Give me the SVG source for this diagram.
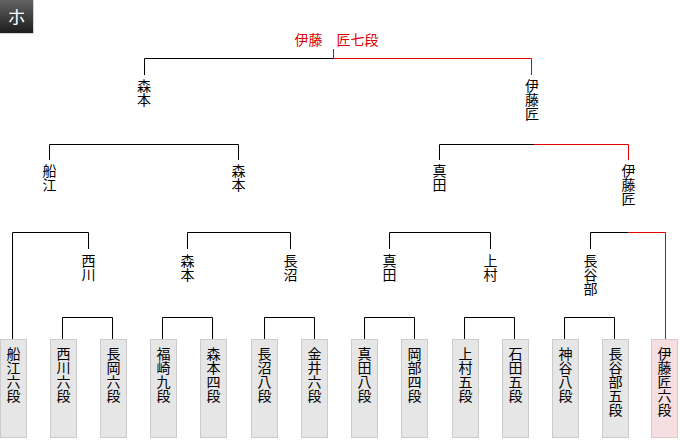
<svg xmlns="http://www.w3.org/2000/svg" width="680" height="440" viewBox="0 0 680 440">
<defs>
<linearGradient id="hdr" x1="0" y1="0" x2="0" y2="1">
<stop offset="0" stop-color="#646464"/>
<stop offset="1" stop-color="#1c1c1c"/>
</linearGradient>
</defs>
<style>
text{font-family:"Noto Sans CJK JP","Noto Sans CJK SC",sans-serif;font-size:14px;fill:#000;text-anchor:middle}
.l{fill:none;stroke:#000;stroke-width:1}
.r{fill:none;stroke:#e00000;stroke-width:1}
.box{fill:#e6e6e6;stroke:#cbcbcb;stroke-width:1}
.win{fill:#f5dfe0;stroke:#e3c7c8;stroke-width:1}
.champ{fill:#e00000}
.hd{fill:#fff;font-size:18px}
</style>
<rect width="680" height="440" fill="#fff"/>
<g id="header">
<rect x="0" y="0" width="33" height="33" fill="url(#hdr)"/>
<path d="M33.5 0V33.5H0" fill="none" stroke="#d4d4d4"/>
<text class="hd" x="16.5" y="24">ホ</text>
</g>
<g id="champion">
<text class="champ" x="336.5" y="44.5">伊藤　匠七段</text>
</g>
<g id="connectors">
<path class="r" d="M333.5 49V58.5"/>
<path class="l" d="M144.5 75V58.5H333.5"/>
<path class="r" d="M333.5 58.5H531.5V75"/>
<path class="l" d="M49.5 160V144.5H238.5V160"/>
<path class="l" d="M439.5 160V144.5H534"/>
<path class="r" d="M534 144.5H628.5V160"/>
<path class="l" d="M12.5 339V232.5H88.5V249"/>
<path class="l" d="M187.5 249V232.5H290.5V249"/>
<path class="l" d="M389.5 249V232.5H490.5V249"/>
<path class="l" d="M590.5 249V232.5H628.5"/>
<path class="r" d="M628.5 232.5H665.5V339"/>
<path class="l" d="M62.5 339V317.5H112.5V339"/>
<path class="l" d="M162.5 339V317.5H212.5V339"/>
<path class="l" d="M264.5 339V317.5H314.5V339"/>
<path class="l" d="M364.5 339V317.5H414.5V339"/>
<path class="l" d="M464.5 339V317.5H514.5V339"/>
<path class="l" d="M564.5 339V317.5H614.5V339"/>
</g>
<g id="r4-morimoto"><text><tspan x="144" y="91">森</tspan><tspan x="144" y="105">本</tspan></text></g>
<g id="r4-ito"><text><tspan x="532" y="91">伊</tspan><tspan x="532" y="105">藤</tspan><tspan x="532" y="119">匠</tspan></text></g>
<g id="r3-funae"><text><tspan x="49.5" y="176">船</tspan><tspan x="49.5" y="190">江</tspan></text></g>
<g id="r3-morimoto"><text><tspan x="238.5" y="176">森</tspan><tspan x="238.5" y="190">本</tspan></text></g>
<g id="r3-sanada"><text><tspan x="439.5" y="176">真</tspan><tspan x="439.5" y="190">田</tspan></text></g>
<g id="r3-ito"><text><tspan x="628.5" y="176">伊</tspan><tspan x="628.5" y="190">藤</tspan><tspan x="628.5" y="204">匠</tspan></text></g>
<g id="r2-nishikawa"><text><tspan x="88.5" y="266">西</tspan><tspan x="88.5" y="280">川</tspan></text></g>
<g id="r2-morimoto"><text><tspan x="187.5" y="266">森</tspan><tspan x="187.5" y="280">本</tspan></text></g>
<g id="r2-naganuma"><text><tspan x="290.5" y="266">長</tspan><tspan x="290.5" y="280">沼</tspan></text></g>
<g id="r2-sanada"><text><tspan x="389.5" y="266">真</tspan><tspan x="389.5" y="280">田</tspan></text></g>
<g id="r2-uemura"><text><tspan x="490.5" y="266">上</tspan><tspan x="490.5" y="280">村</tspan></text></g>
<g id="r2-hasebe"><text><tspan x="590.5" y="266">長</tspan><tspan x="590.5" y="280">谷</tspan><tspan x="590.5" y="294">部</tspan></text></g>
<g id="p-funae"><rect class="box" x="0.5" y="339.5" width="26" height="98"/><text><tspan x="13.5" y="358.5">船</tspan><tspan x="13.5" y="372.5">江</tspan><tspan x="13.5" y="386.5">六</tspan><tspan x="13.5" y="400.5">段</tspan></text></g>
<g id="p-nishikawa"><rect class="box" x="50.5" y="339.5" width="26" height="98"/><text><tspan x="63.5" y="358.5">西</tspan><tspan x="63.5" y="372.5">川</tspan><tspan x="63.5" y="386.5">六</tspan><tspan x="63.5" y="400.5">段</tspan></text></g>
<g id="p-nagaoka"><rect class="box" x="100.5" y="339.5" width="26" height="98"/><text><tspan x="113.5" y="358.5">長</tspan><tspan x="113.5" y="372.5">岡</tspan><tspan x="113.5" y="386.5">六</tspan><tspan x="113.5" y="400.5">段</tspan></text></g>
<g id="p-fukuzaki"><rect class="box" x="150.5" y="339.5" width="26" height="98"/><text><tspan x="163.5" y="358.5">福</tspan><tspan x="163.5" y="372.5">崎</tspan><tspan x="163.5" y="386.5">九</tspan><tspan x="163.5" y="400.5">段</tspan></text></g>
<g id="p-morimoto"><rect class="box" x="200.5" y="339.5" width="26" height="98"/><text><tspan x="213.5" y="358.5">森</tspan><tspan x="213.5" y="372.5">本</tspan><tspan x="213.5" y="386.5">四</tspan><tspan x="213.5" y="400.5">段</tspan></text></g>
<g id="p-naganuma"><rect class="box" x="251.5" y="339.5" width="26" height="98"/><text><tspan x="264.5" y="358.5">長</tspan><tspan x="264.5" y="372.5">沼</tspan><tspan x="264.5" y="386.5">八</tspan><tspan x="264.5" y="400.5">段</tspan></text></g>
<g id="p-kanai"><rect class="box" x="301.5" y="339.5" width="26" height="98"/><text><tspan x="314.5" y="358.5">金</tspan><tspan x="314.5" y="372.5">井</tspan><tspan x="314.5" y="386.5">六</tspan><tspan x="314.5" y="400.5">段</tspan></text></g>
<g id="p-sanada"><rect class="box" x="351.5" y="339.5" width="26" height="98"/><text><tspan x="364.5" y="358.5">真</tspan><tspan x="364.5" y="372.5">田</tspan><tspan x="364.5" y="386.5">八</tspan><tspan x="364.5" y="400.5">段</tspan></text></g>
<g id="p-okabe"><rect class="box" x="401.5" y="339.5" width="26" height="98"/><text><tspan x="414.5" y="358.5">岡</tspan><tspan x="414.5" y="372.5">部</tspan><tspan x="414.5" y="386.5">四</tspan><tspan x="414.5" y="400.5">段</tspan></text></g>
<g id="p-uemura"><rect class="box" x="452.5" y="339.5" width="26" height="98"/><text><tspan x="465.5" y="358.5">上</tspan><tspan x="465.5" y="372.5">村</tspan><tspan x="465.5" y="386.5">五</tspan><tspan x="465.5" y="400.5">段</tspan></text></g>
<g id="p-ishida"><rect class="box" x="502.5" y="339.5" width="26" height="98"/><text><tspan x="515.5" y="358.5">石</tspan><tspan x="515.5" y="372.5">田</tspan><tspan x="515.5" y="386.5">五</tspan><tspan x="515.5" y="400.5">段</tspan></text></g>
<g id="p-kamiya"><rect class="box" x="552.5" y="339.5" width="26" height="98"/><text><tspan x="565.5" y="358.5">神</tspan><tspan x="565.5" y="372.5">谷</tspan><tspan x="565.5" y="386.5">八</tspan><tspan x="565.5" y="400.5">段</tspan></text></g>
<g id="p-hasebe"><rect class="box" x="602.5" y="339.5" width="26" height="98"/><text><tspan x="615.5" y="358.5">長</tspan><tspan x="615.5" y="372.5">谷</tspan><tspan x="615.5" y="386.5">部</tspan><tspan x="615.5" y="400.5">五</tspan><tspan x="615.5" y="414.5">段</tspan></text></g>
<g id="p-ito"><rect class="win" x="651.5" y="339.5" width="26" height="98"/><text><tspan x="664.5" y="358.5">伊</tspan><tspan x="664.5" y="372.5">藤</tspan><tspan x="664.5" y="386.5">匠</tspan><tspan x="664.5" y="400.5">六</tspan><tspan x="664.5" y="414.5">段</tspan></text></g>
</svg>
